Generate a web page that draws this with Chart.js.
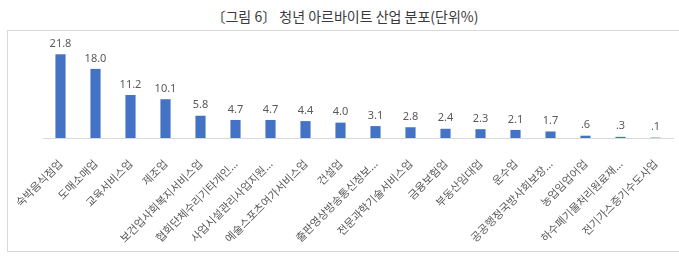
<!DOCTYPE html>
<html>
<head>
<meta charset="utf-8">
<script src="https://cdn.jsdelivr.net/npm/chart.js@4"></script>
<style>
  html, body { margin: 0; padding: 0; background: #fff; }
  #wrap { position: relative; width: 679px; height: 256px; overflow: hidden; }
  #title {
    position: absolute; left: 0; top: 6px; width: 690px; text-align: center;
    font: 14px "Noto Sans CJK KR", sans-serif; color: #3a3a3a;
  }
  #box {
    position: absolute; left: 7px; top: 30px; width: 700px; height: 220px;
    border: 1px solid #d9d9d9;
  }
  #chartBox { position: absolute; left: 0; top: 0; width: 679px; height: 256px; }
</style>
</head>
<body>
<div id="wrap">
  <div id="title">〔그림 6〕 청년 아르바이트 산업 분포(단위%)</div>
  <div id="box"></div>
  <div id="chartBox"><canvas id="myChart"></canvas></div>
</div>
<script>
const categories = [
  "숙박음식점업", "도매소매업", "교육서비스업", "제조업",
  "보건업사회복지서비스업", "협회단체수리기타개인...", "사업시설관리사업지원...",
  "예술스포츠여가서비스업", "건설업", "출판영상방송통신정보...", "전문과학기술서비스업",
  "금융보험업", "부동산임대업", "운수업", "공공행정국방사회보장...",
  "농업임업어업", "하수폐기물처리원료재...", "전기가스증기수도사업"
];
const shares = [21.8, 18.0, 11.2, 10.1, 5.8, 4.7, 4.7, 4.4, 4.0, 3.1, 2.8, 2.4, 2.3, 2.1, 1.7, 0.6, 0.3, 0.1];

// value labels above the bars, Excel style (".6" instead of "0.6")
const valueLabels = {
  id: "valueLabels",
  afterDatasetsDraw(chart) {
    const ctx = chart.ctx;
    const meta = chart.getDatasetMeta(0);
    ctx.save();
    ctx.font = "11px 'Noto Sans', sans-serif";
    ctx.fillStyle = "#595959";
    ctx.textAlign = "center";
    ctx.textBaseline = "bottom";
    meta.data.forEach((bar, i) => {
      const v = shares[i];
      const txt = v < 1 ? v.toFixed(1).replace(/^0/, "") : v.toFixed(1);
      ctx.fillText(txt, bar.x, bar.y - 5);
    });
    ctx.restore();
  },
};

const ctx = document.getElementById("myChart");
new Chart(ctx, {
  type: "bar",
  data: {
    labels: categories,
    datasets: [
      {
        data: shares,
        backgroundColor: "#4472c4",
        categoryPercentage: 1,
        barPercentage: 0.29,
      },
    ],
  },
  options: {
    responsive: true,
    maintainAspectRatio: false,
    animation: false,
    layout: { padding: { left: 43, right: 6, top: 42, bottom: 6 } },
    scales: {
      x: {
        grid: { display: false },
        border: { display: true, color: "#d9d9d9" },
        ticks: {
          autoSkip: false,
          maxRotation: 45,
          minRotation: 45,
          padding: 11,
          color: "#595959",
          font: { size: 11, family: "'Noto Sans CJK KR', sans-serif" },
        },
        afterFit(scale) {
          scale.height = 112;
          scale.paddingLeft = 0;
          scale.paddingRight = 0;
        },
      },
      y: {
        display: false,
        min: 0,
        max: 25,
      },
    },
    plugins: {
      legend: { display: false },
      tooltip: { enabled: false },
    },
  },
  plugins: [valueLabels],
});
</script>
</body>
</html>
